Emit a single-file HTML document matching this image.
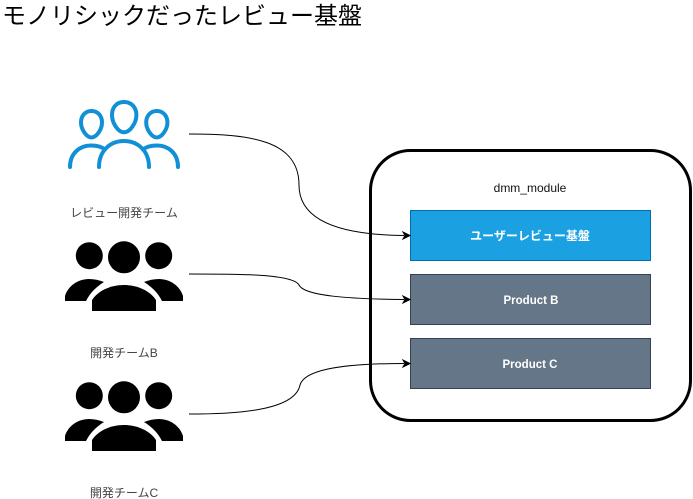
<!DOCTYPE html>
<html>
<head>
<meta charset="utf-8">
<style>
html,body{margin:0;padding:0;background:#fff;width:693px;height:499px;overflow:hidden}
svg{display:block}
text{font-family:"Liberation Sans","Noto Sans CJK JP",sans-serif}
</style>
</head>
<body>
<svg width="693" height="499" viewBox="0 0 693 499" xmlns="http://www.w3.org/2000/svg">
<defs>
<g id="team">
  <circle cx="89.3" cy="255.7" r="13.5" fill="#000"/>
  <circle cx="124" cy="257.3" r="16" fill="#000"/>
  <circle cx="158.7" cy="255.7" r="13.5" fill="#000"/>
  <path d="M65 301V296C68 286 78 279 89 279C94 279 99 280 104 282C96 287 90 293 86 301Z" fill="#000"/>
  <path d="M183 301V296C180 286 170 279 159 279C154 279 149 280 144 282C152 287 158 293 162 301Z" fill="#000"/>
  <path d="M92 311V300C98 291 110 285 124 285C138 285 150 291 156 300V311Z" fill="#000"/>
</g>
</defs>

<text x="2" y="24" font-size="24" fill="#000">モノリシックだったレビュー基盤</text>

<rect x="370.5" y="150.5" width="320" height="270" rx="40" ry="40" fill="#fff" stroke="#000" stroke-width="3"/>
<text x="530" y="192" font-size="12" fill="#111" text-anchor="middle">dmm_module</text>

<rect x="410.5" y="210.5" width="240" height="50" fill="#1ba1e2" stroke="#006eaf"/>
<text x="530" y="240" font-size="12" font-weight="bold" fill="#fff" text-anchor="middle">ユーザーレビュー基盤</text>
<rect x="410.5" y="274.5" width="240" height="50" fill="#647687" stroke="#314354"/>
<text x="531" y="304" font-size="11.5" font-weight="bold" fill="#fff" text-anchor="middle">Product B</text>
<rect x="410.5" y="338.5" width="240" height="50" fill="#647687" stroke="#314354"/>
<text x="530" y="368" font-size="11.5" font-weight="bold" fill="#fff" text-anchor="middle">Product C</text>

<!-- blue team -->
<g fill="none" stroke="#1190d5" stroke-width="4" stroke-linecap="round">
  <path d="M124 102C116 102 112 108 112 115C112 123 118 132.3 124 132.3C130 132.3 136.4 123 136.4 115C136.4 108 132 102 124 102Z"/>
  <path d="M91.5 111C85 111 81 116 81 122.5C81 130 87 137.5 91.5 137.5C96 137.5 102 130 102 122.5C102 116 98 111 91.5 111Z"/>
  <path d="M156.8 111C150.3 111 146.2 116 146.2 122.5C146.2 130 152.3 137.5 156.8 137.5C161.3 137.5 167.4 130 167.4 122.5C167.4 116 163.3 111 156.8 111Z"/>
  <path d="M99 167C99 151 110 141 124 141C138 141 149 151 149 167"/>
  <path d="M70 167C70 153 80 145.5 91 145.5C97 145.5 102 147 105 149.5"/>
  <path d="M178 167C178 153 168 145.5 157 145.5C151 145.5 146 147 143 149.5"/>
</g>
<text x="124" y="217" font-size="12" fill="#444" text-anchor="middle">レビュー開発チーム</text>

<use href="#team"/>
<text x="124" y="357" font-size="12" fill="#444" text-anchor="middle">開発チームB</text>
<use href="#team" y="140"/>
<text x="124" y="497" font-size="12" fill="#444" text-anchor="middle">開発チームC</text>

<!-- connectors -->
<g fill="none" stroke="#000" stroke-width="1">
  <path d="M189 134C250 134 299 140 299 185C299 225 350 235 404 235.5"/>
  <path d="M189 274C240 274 293 274 299 285C304 296 350 299 404 299.5"/>
  <path d="M189 414C240 414 295 410 300 385C305 368 350 363.5 404 363.5"/>
</g>
<g fill="#000" stroke="#000">
  <path d="M410 235.5L403 239L405 235.5L403 232Z"/>
  <path d="M410 299.5L403 303L405 299.5L403 296Z"/>
  <path d="M410 363.5L403 367L405 363.5L403 360Z"/>
</g>
</svg>
</body>
</html>
